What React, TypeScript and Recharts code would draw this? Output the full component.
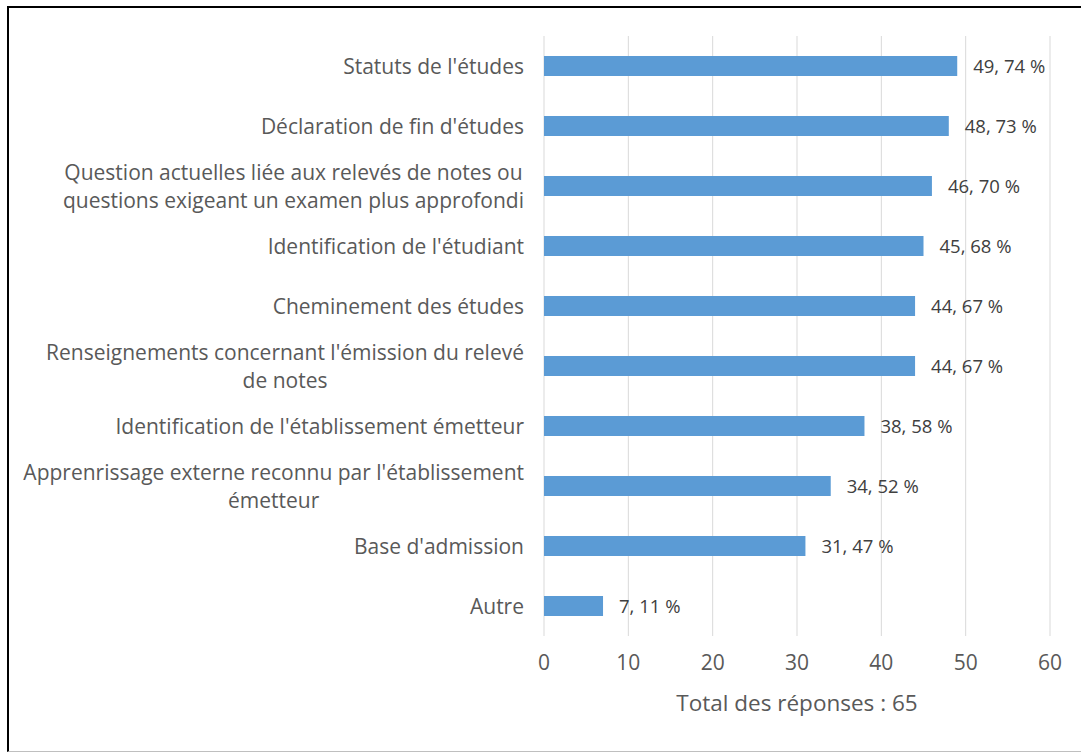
import React from "react";
import { BarChart, Bar, XAxis, YAxis, CartesianGrid, LabelList, Label } from "recharts";

const categories = [
  "Statuts de l'études",
  "Déclaration de fin d'études",
  "Question actuelles liée aux relevés de notes ou\nquestions exigeant un examen plus approfondi",
  "Identification de l'étudiant",
  "Cheminement des études",
  "Renseignements concernant l'émission du relevé\nde notes",
  "Identification de l'établissement émetteur",
  "Apprenrissage externe reconnu par l'établissement\németteur",
  "Base d'admission",
  "Autre",
];
const counts = [49, 48, 46, 45, 44, 44, 38, 34, 31, 7];
const percents = [74, 73, 70, 68, 67, 67, 58, 52, 47, 11];
const xTicks = [0, 10, 20, 30, 40, 50, 60];

const data = categories.map((name, i) => ({
  name,
  count: counts[i],
  label: `${counts[i]}, ${percents[i]} %`,
}));

const FONT = "'Open Sans', sans-serif";
const FONT_SIZE = 21;
const TEXT = "#595959";

let ctx: CanvasRenderingContext2D | null = null;
function measure(s: string) {
  if (!ctx) ctx = document.createElement("canvas").getContext("2d");
  if (!ctx) return s.length * 10;
  ctx.font = `${FONT_SIZE}px 'Open Sans'`;
  return ctx.measureText(s).width;
}

// y-axis labels: block right-aligned, lines centred inside it (like Excel)
function CategoryTick(props: any) {
  const { x, y, payload } = props;
  const lines: string[] = String(payload.value).split("\n");
  const right = x - 12;
  const lh = 28;
  const widest = Math.max(...lines.map(measure));
  const cx = right - widest / 2;
  const y0 = y - ((lines.length - 1) * lh) / 2;
  return (
    <g>
      {lines.map((l, i) => (
        <text
          key={i}
          x={cx}
          y={y0 + i * lh}
          textAnchor="middle"
          dominantBaseline="central"
          fill={TEXT}
          fontFamily={FONT}
          fontSize={FONT_SIZE}
        >
          {l}
        </text>
      ))}
    </g>
  );
}

export default function App() {
  return (
    <div style={{ position: "absolute", left: 0, top: 0, width: 1081, height: 753, background: "#fff" }}>
      <div
        style={{
          position: "absolute",
          left: 7,
          top: 6,
          width: 1074,
          height: 743,
          borderLeft: "2px solid #000",
          borderTop: "2px solid #000",
          borderBottom: "1px solid #bfbfbf",
        }}
      />
      <div style={{ position: "absolute", left: 0, top: 0 }}>
        <BarChart
          width={1081}
          height={753}
          data={data}
          layout="vertical"
          margin={{ top: 36, right: 31, bottom: 37, left: 0 }}
        >
          <CartesianGrid horizontal={false} stroke="#d9d9d9" />
          <XAxis
            type="number"
            domain={[0, 60]}
            ticks={xTicks}
            axisLine={false}
            tickLine={false}
            tickSize={0}
            tickMargin={19}
            height={80}
            tick={{ fill: TEXT, fontFamily: FONT, fontSize: FONT_SIZE }}
          >
            <Label
              value="Total des réponses : 65"
              position="insideBottom"
              offset={5}
              fill={TEXT}
              fontFamily={FONT}
              fontSize={22.5}
            />
          </XAxis>
          <YAxis
            type="category"
            dataKey="name"
            width={544}
            axisLine={false}
            tickLine={false}
            interval={0}
            tick={<CategoryTick />}
          />
          <Bar dataKey="count" fill="#5b9bd5" barSize={20} isAnimationActive={false}>
            <LabelList
              dataKey="label"
              position="right"
              offset={16}
              fill="#404040"
              fontFamily={FONT}
              fontSize={18.5}
            />
          </Bar>
        </BarChart>
      </div>
    </div>
  );
}
